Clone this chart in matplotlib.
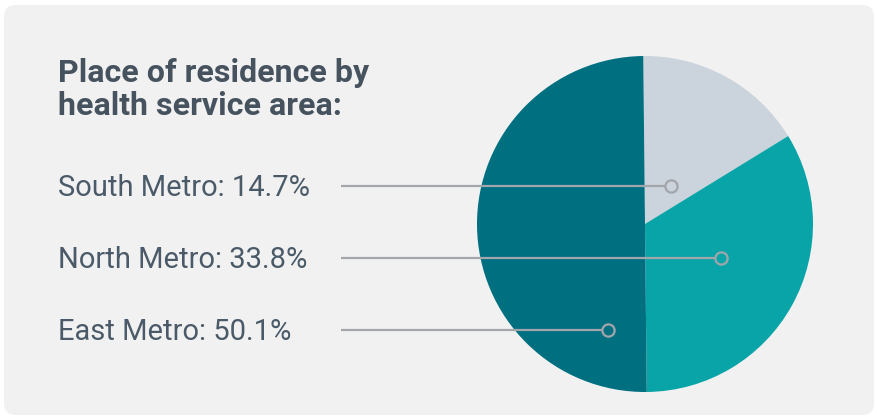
import matplotlib
matplotlib.use("Agg")
import matplotlib.pyplot as plt
from matplotlib.patches import FancyBboxPatch

plt.rcParams['font.family'] = ['Roboto', 'DejaVu Sans']

# data
areas = ['South Metro', 'North Metro', 'East Metro']
shares = [14.7, 33.8, 50.1]           # values printed in the labels
slice_sizes = [16.4, 33.6, 50.0]      # wedge sizes as drawn in the picture
colors = ['#cbd3dc', '#08a4a8', '#007081']
title_lines = ['Place of residence by', 'health service area:']

W, H = 878, 417
fig = plt.figure(figsize=(W / 100, H / 100), dpi=100)
ax = fig.add_axes([0, 0, 1, 1])

# rounded card background
card = FancyBboxPatch((4, 2), W - 8, H - 7,
                      boxstyle='round,pad=0,rounding_size=12',
                      fc='#f1f1f1', ec='none', zorder=0)
ax.add_patch(card)

# pie
cx, cy, r = 645, H - 224, 168
ax.pie(slice_sizes, colors=colors, startangle=90.6, counterclock=False,
       center=(cx, cy), radius=r, frame=True,
       wedgeprops=dict(linewidth=0, zorder=1))
ax.set_xlim(0, W)
ax.set_ylim(0, H)
ax.set_aspect('equal')
ax.axis('off')

# title (two lines, placed by baseline)
for line, by in zip(title_lines, [82, 115]):
    ax.text(58, H - by, line, fontsize=23.1, fontweight='bold',
            color='#46535f', va='baseline', ha='left')

# labels with leader lines
label_y = [186, 258, 330]
marker_x = [671.5, 721.5, 608.5]
for name, val, ly, mx in zip(areas, shares, label_y, marker_x):
    y = H - ly
    ax.text(58, y - 10.5, f'{name}: {val}%', fontsize=21.0, color='#4a5a68',
            va='baseline', ha='left')
    ax.plot([341, mx - 6], [y, y], color='#a2a6ab', lw=1.6,
            solid_capstyle='butt', zorder=3)
    ax.plot([mx], [y], marker='o', ms=8.8, mfc='none', mec='#a2a6ab',
            mew=1.6, zorder=4)

fig.savefig('out.png', dpi=100, facecolor='white')
